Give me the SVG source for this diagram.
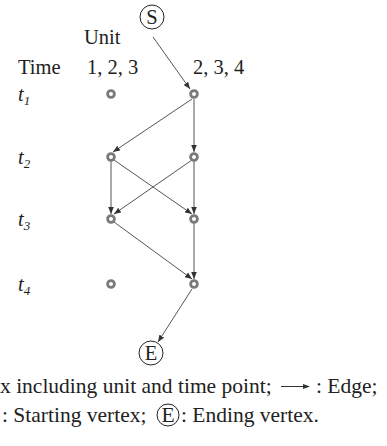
<svg xmlns="http://www.w3.org/2000/svg" width="387" height="446" viewBox="0 0 387 446">
<defs>
<style>
text{font-family:"Liberation Serif","Times New Roman",serif;font-size:20.5px;fill:#222}
.it{font-style:italic}
.sub{font-size:13px}
.lg{font-size:21.5px}
.v{fill:#fff;stroke:#7a7a7a;stroke-width:2.8}
.e{stroke:#555;stroke-width:1;fill:none;marker-end:url(#ah)}
.ring{fill:#fff;stroke:#222;stroke-width:1}
</style>
<marker id="ah" viewBox="0 0 10 10" refX="10" refY="5" markerWidth="7" markerHeight="7" orient="auto" markerUnits="userSpaceOnUse">
<path d="M0,1 L10,5 L0,9 z" fill="#333"/>
</marker>
</defs>
<rect width="387" height="446" fill="#fff"/>
<g id="headers">
<text x="84" y="44">Unit</text>
<text x="18" y="74">Time</text>
<text x="87" y="74">1, 2, 3</text>
<text x="193" y="74">2, 3, 4</text>
<text class="it" x="18" y="101">t<tspan class="sub" dy="4">1</tspan></text>
<text class="it" x="18" y="164">t<tspan class="sub" dy="4">2</tspan></text>
<text class="it" x="18" y="226">t<tspan class="sub" dy="4">3</tspan></text>
<text class="it" x="18" y="291">t<tspan class="sub" dy="4">4</tspan></text>
</g>
<g id="connectors">
<line class="e" x1="153" y1="37" x2="190" y2="89"/>
<line class="e" x1="192" y1="99" x2="113" y2="152"/>
<line class="e" x1="194" y1="99" x2="194" y2="152"/>
<line class="e" x1="111" y1="161" x2="111" y2="214"/>
<line class="e" x1="114" y1="160" x2="192" y2="214"/>
<line class="e" x1="192" y1="160" x2="114" y2="214"/>
<line class="e" x1="194" y1="161" x2="194" y2="214"/>
<line class="e" x1="114" y1="222" x2="192" y2="279"/>
<line class="e" x1="194" y1="223" x2="194" y2="279"/>
<line class="e" x1="192" y1="289" x2="158" y2="342"/>
</g>
<g id="S"><circle class="ring" cx="152" cy="17" r="12"/><text x="152" y="24" text-anchor="middle">S</text></g>
<g id="v-1-1"><circle class="v" cx="111" cy="94" r="3.4"/></g>
<g id="v-2-1"><circle class="v" cx="194" cy="94" r="3.4"/></g>
<g id="v-1-2"><circle class="v" cx="111" cy="157" r="3.4"/></g>
<g id="v-2-2"><circle class="v" cx="194" cy="157" r="3.4"/></g>
<g id="v-1-3"><circle class="v" cx="111" cy="219" r="3.4"/></g>
<g id="v-2-3"><circle class="v" cx="194" cy="219" r="3.4"/></g>
<g id="v-1-4"><circle class="v" cx="111" cy="284" r="3.4"/></g>
<g id="v-2-4"><circle class="v" cx="194" cy="284" r="3.4"/></g>
<g id="E"><circle class="ring" cx="151" cy="353" r="12"/><text x="151" y="360" text-anchor="middle">E</text></g>
<g id="legend">
<text class="lg" x="0" y="393">x including unit and time point;</text>
<line x1="281" y1="386.5" x2="309" y2="386.5" stroke="#333" stroke-width="1"/>
<path d="M303,384 L310,386.5 L303,389 z" fill="#333"/>
<text class="lg" x="316" y="393">: Edge;</text>
<text class="lg" x="2" y="422">: Starting vertex;</text>
<circle class="ring" cx="168" cy="415" r="11"/>
<text class="lg" x="168" y="422" text-anchor="middle">E</text>
<text class="lg" x="181" y="422">: Ending vertex.</text>
</g>
</svg>
